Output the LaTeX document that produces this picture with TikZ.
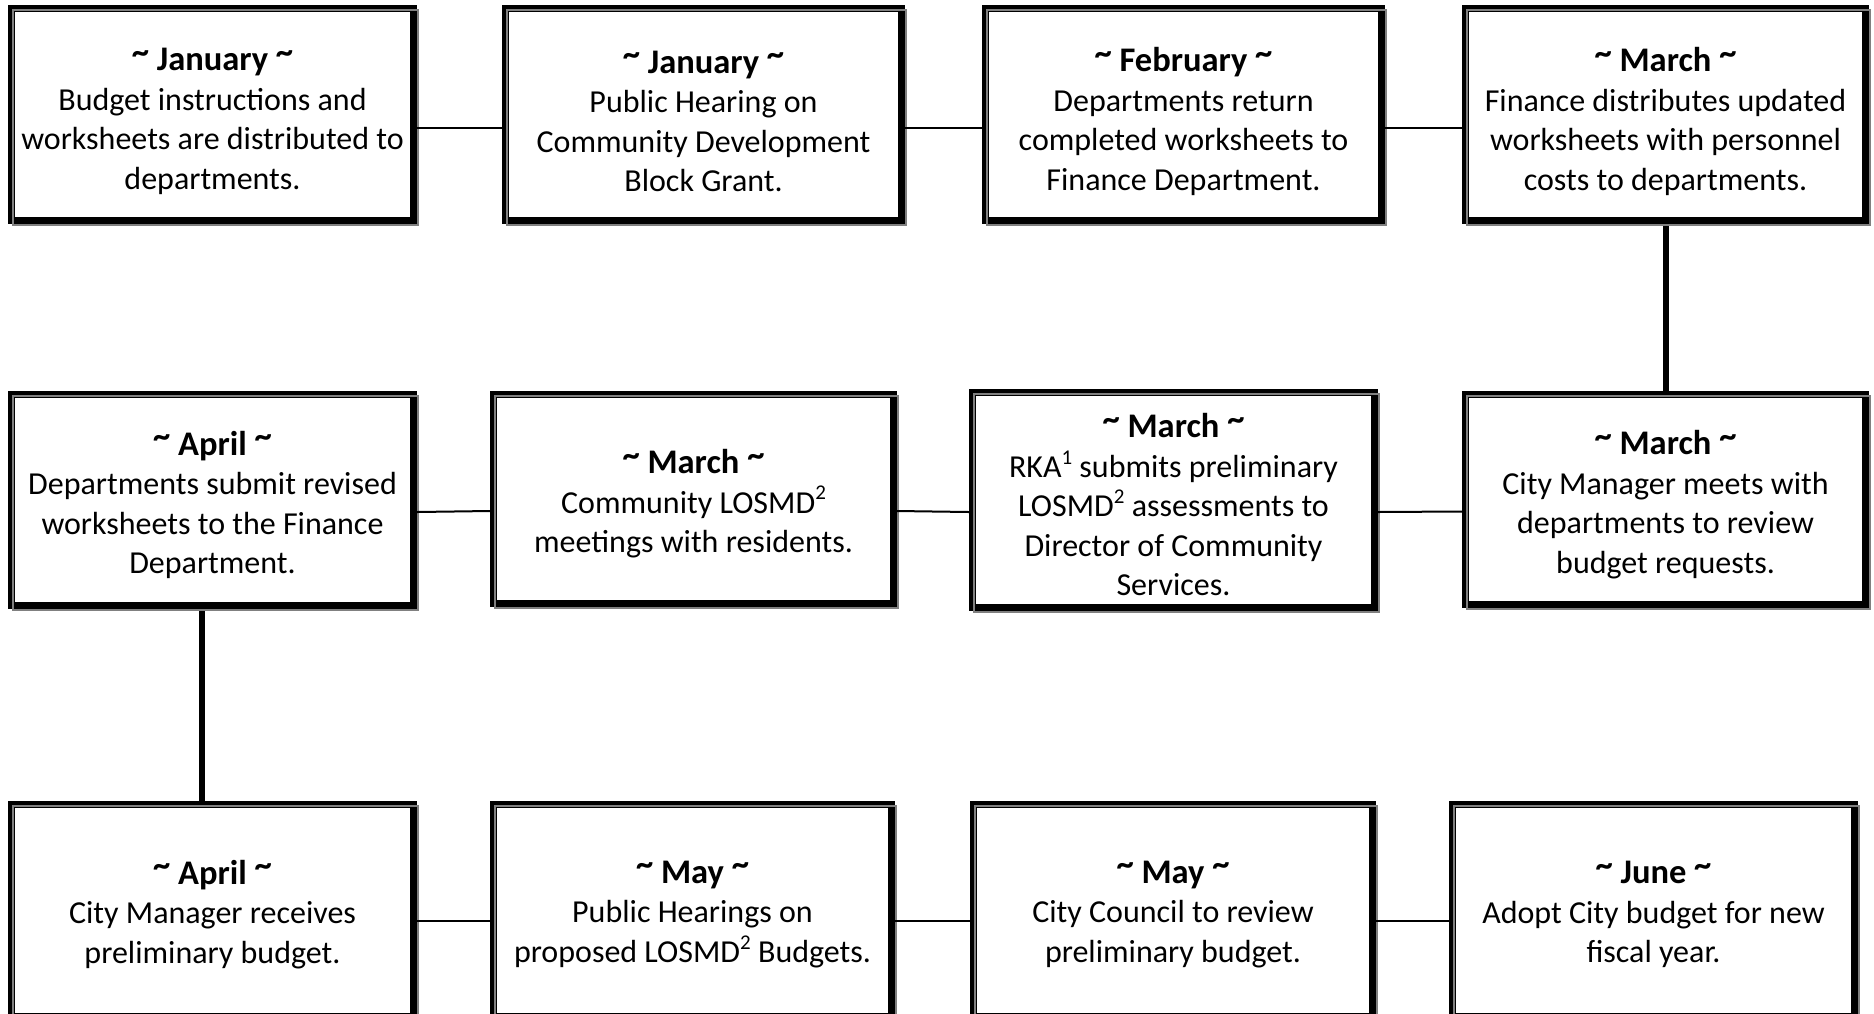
\documentclass[tikz,border=0pt]{standalone}
\usepackage{fontspec}
\setmainfont{Carlito}
\definecolor{shadowgray}{RGB}{128,128,128}
\tikzset{
  tb/.style={rectangle, inner sep=0pt},
  tt/.style={inner sep=0pt, align=center, font=\fontsize{32}{39.5}\selectfont},
  frameline/.style={line width=7pt, black},
  shadowline/.style={line width=2pt, shadowgray},
  thinlink/.style={line width=2pt, black},
  thicklink/.style={line width=6pt, black},
}
\newcommand\tld{\raisebox{0.22em}{\textasciitilde}}
\newcommand\mon[1]{{\fontsize{34.5}{41}\selectfont\bfseries\tld\ #1 \tld}}
\newcommand\supr[1]{\raisebox{0.42em}{\fontsize{21}{21}\selectfont #1}}
% name, x1, y1, x2, y2, text shift, text
\newcommand\tlbox[7]{%
  \node[tb, minimum width={#4-#2}, minimum height={#5-#3}] (#1) at ({(#2+#4)/2},{-(#3+#5)/2}) {};
  \draw[frameline] ([shift={(3.5,-3.5)}]#1.north west) rectangle ([shift={(-3.5,3.5)}]#1.south east);
  \draw[shadowline] ([shift={(5,-5)}]#1.north west) rectangle ([shift={(1,-1)}]#1.south east);
  \node[tt] (#1t) at ([yshift=-#6]#1.center) {#7};
}
\begin{document}
\begin{tikzpicture}[x=1pt,y=1pt]
\useasboundingbox (0,0) rectangle (1874,-1013);
\clip (0,0) rectangle (1874,-1013);
\fill[white] (0,0) rectangle (1874,-1013);
% row 1
\tlbox{b1}{8}{5}{417}{224}{7}{\mon{January}\\Budget instructions and\\worksheets are distributed to\\departments.}
\tlbox{b2}{502}{5}{905}{224}{7}{\mon{January}\\Public Hearing on\\Community Development\\Block Grant.}
\tlbox{b3}{982}{5}{1385}{224}{7}{\mon{February}\\Departments return\\completed worksheets to\\Finance Department.}
\tlbox{b4}{1462}{5}{1869}{224}{7}{\mon{March}\\Finance distributes updated\\worksheets with personnel\\costs to departments.}
% row 2
\tlbox{b5}{8}{391}{417}{609}{5}{\mon{April}\\Departments submit revised\\worksheets to the Finance\\Department.}
\tlbox{b6}{490}{391}{897}{607}{5}{\mon{March}\\Community LOSMD\supr{2}\\meetings with residents.}
\tlbox{b7}{969}{389}{1378}{611}{5}{\mon{March}\\RKA\supr{1} submits preliminary\\LOSMD\supr{2} assessments to\\Director of Community\\Services.}
\tlbox{b8}{1462}{391}{1869}{608}{5}{\mon{March}\\City Manager meets with\\departments to review\\budget requests.}
% row 3
\tlbox{b9}{8}{801}{417}{1020}{4}{\mon{April}\\City Manager receives\\preliminary budget.}
\tlbox{b10}{490}{801}{895}{1020}{4}{\mon{May}\\Public Hearings on\\proposed LOSMD\supr{2} Budgets.}
\tlbox{b11}{970}{801}{1376}{1020}{4}{\mon{May}\\City Council to review\\preliminary budget.}
\tlbox{b12}{1449}{801}{1858}{1020}{4}{\mon{June}\\Adopt City budget for new\\fiscal year.}
% connectors
\draw[thinlink] ([yshift=-13]b1.east) -- ([yshift=-13]b2.west);
\draw[thinlink] ([yshift=-13]b2.east) -- ([yshift=-13]b3.west);
\draw[thinlink] ([yshift=-13]b3.east) -- ([yshift=-13]b4.west);
\draw[thinlink] ([yshift=-12]b5.east) -- ([yshift=-12]b6.west);
\draw[thinlink] ([yshift=-12]b6.east) -- ([yshift=-12]b7.west);
\draw[thinlink] ([yshift=-12]b7.east) -- ([yshift=-12]b8.west);
\draw[thinlink] ([yshift=-10]b9.east) -- ([yshift=-10]b10.west);
\draw[thinlink] ([yshift=-10]b10.east) -- ([yshift=-10]b11.west);
\draw[thinlink] ([yshift=-10]b11.east) -- ([yshift=-10]b12.west);
\draw[thicklink] ([yshift=-2]b4.south) -- (b8.north);
\draw[thicklink] ([xshift=-11pt,yshift=-2]b5.south) -- ([xshift=-11pt]b9.north);
\end{tikzpicture}
\end{document}
